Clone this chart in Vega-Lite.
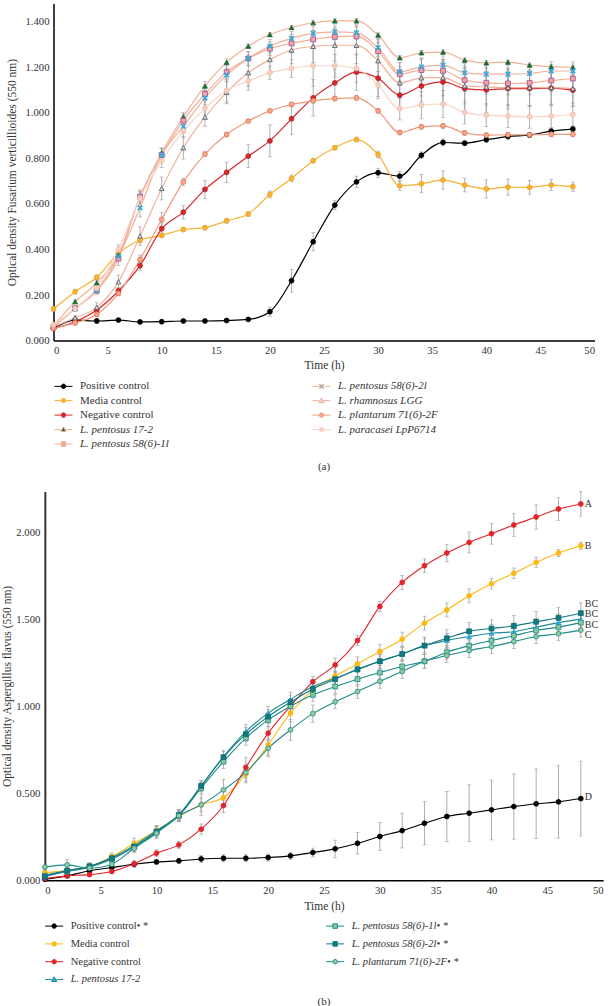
{
"$schema": "https://vega.github.io/schema/vega-lite/v6.json",
"background": "white",
"padding": {"left": 1.5, "top": 3.6, "right": 0, "bottom": 0},
"spacing": 151,
"center": true,
"bounds": "flush",
"config": {
  "view": {"stroke": null},
  "font": "Liberation Serif",
  "axis": {"grid": false, "ticks": false, "tickSize": 0, "labelFont": "Liberation Serif", "labelFontSize": 10.7, "labelColor": "#333333", "titleFont": "Liberation Serif", "titleFontSize": 11.5, "titleFontWeight": "normal", "titleColor": "#333333", "domainColor": "#111111", "domainWidth": 1.5}
},
"resolve": {"scale": {"x": "independent", "y": "independent", "fill": "independent", "stroke": "independent", "shape": "independent"}, "legend": {"fill": "independent"}},
"datasets": {
"a": [
{"s":"PC","t":0,"v":0.054,"e":0.005},{"s":"PC","t":2,"v":0.090,"e":0.01},{"s":"PC","t":4,"v":0.086,"e":0.01},{"s":"PC","t":6,"v":0.090,"e":0.005},{"s":"PC","t":8,"v":0.082,"e":0.005},{"s":"PC","t":10,"v":0.083,"e":0.005},{"s":"PC","t":12,"v":0.086,"e":0.005},{"s":"PC","t":14,"v":0.086,"e":0.005},{"s":"PC","t":16,"v":0.088,"e":0.005},{"s":"PC","t":18,"v":0.093,"e":0.005},{"s":"PC","t":20,"v":0.127,"e":0.02},{"s":"PC","t":22,"v":0.263,"e":0.05},{"s":"PC","t":24,"v":0.434,"e":0.04},{"s":"PC","t":26,"v":0.595,"e":0.02},{"s":"PC","t":28,"v":0.697,"e":0.025},{"s":"PC","t":30,"v":0.737,"e":0.02},{"s":"PC","t":32,"v":0.722,"e":0.02},{"s":"PC","t":34,"v":0.814,"e":0.015},{"s":"PC","t":36,"v":0.870,"e":0.015},{"s":"PC","t":38,"v":0.867,"e":0.01},{"s":"PC","t":40,"v":0.882,"e":0.01},{"s":"PC","t":42,"v":0.896,"e":0.01},{"s":"PC","t":44,"v":0.903,"e":0.01},{"s":"PC","t":46,"v":0.920,"e":0.01},{"s":"PC","t":48,"v":0.929,"e":0.01},
{"s":"MC","t":0,"v":0.139,"e":0.01},{"s":"MC","t":2,"v":0.215,"e":0.01},{"s":"MC","t":4,"v":0.278,"e":0.01},{"s":"MC","t":6,"v":0.383,"e":0.015},{"s":"MC","t":8,"v":0.441,"e":0.01},{"s":"MC","t":10,"v":0.462,"e":0.01},{"s":"MC","t":12,"v":0.488,"e":0.01},{"s":"MC","t":14,"v":0.496,"e":0.01},{"s":"MC","t":16,"v":0.526,"e":0.01},{"s":"MC","t":18,"v":0.556,"e":0.01},{"s":"MC","t":20,"v":0.642,"e":0.015},{"s":"MC","t":22,"v":0.712,"e":0.015},{"s":"MC","t":24,"v":0.790,"e":0.01},{"s":"MC","t":26,"v":0.847,"e":0.01},{"s":"MC","t":28,"v":0.883,"e":0.01},{"s":"MC","t":30,"v":0.817,"e":0.015},{"s":"MC","t":32,"v":0.680,"e":0.02},{"s":"MC","t":34,"v":0.689,"e":0.04},{"s":"MC","t":36,"v":0.705,"e":0.04},{"s":"MC","t":38,"v":0.683,"e":0.03},{"s":"MC","t":40,"v":0.666,"e":0.04},{"s":"MC","t":42,"v":0.674,"e":0.035},{"s":"MC","t":44,"v":0.673,"e":0.03},{"s":"MC","t":46,"v":0.683,"e":0.025},{"s":"MC","t":48,"v":0.676,"e":0.02},
{"s":"NC","t":0,"v":0.054,"e":0.005},{"s":"NC","t":2,"v":0.083,"e":0.01},{"s":"NC","t":4,"v":0.134,"e":0.015},{"s":"NC","t":6,"v":0.218,"e":0.015},{"s":"NC","t":8,"v":0.329,"e":0.02},{"s":"NC","t":10,"v":0.491,"e":0.025},{"s":"NC","t":12,"v":0.564,"e":0.03},{"s":"NC","t":14,"v":0.664,"e":0.04},{"s":"NC","t":16,"v":0.739,"e":0.045},{"s":"NC","t":18,"v":0.810,"e":0.05},{"s":"NC","t":20,"v":0.877,"e":0.07},{"s":"NC","t":22,"v":0.974,"e":0.07},{"s":"NC","t":24,"v":1.066,"e":0.08},{"s":"NC","t":26,"v":1.132,"e":0.06},{"s":"NC","t":28,"v":1.179,"e":0.08},{"s":"NC","t":30,"v":1.152,"e":0.08},{"s":"NC","t":32,"v":1.078,"e":0.06},{"s":"NC","t":34,"v":1.118,"e":0.07},{"s":"NC","t":36,"v":1.136,"e":0.09},{"s":"NC","t":38,"v":1.107,"e":0.1},{"s":"NC","t":40,"v":1.101,"e":0.1},{"s":"NC","t":42,"v":1.107,"e":0.09},{"s":"NC","t":44,"v":1.107,"e":0.08},{"s":"NC","t":46,"v":1.109,"e":0.07},{"s":"NC","t":48,"v":1.100,"e":0.07},
{"s":"P172","t":0,"v":0.065,"e":0.005},{"s":"P172","t":2,"v":0.171,"e":0.01},{"s":"P172","t":4,"v":0.254,"e":0.01},{"s":"P172","t":6,"v":0.376,"e":0.02},{"s":"P172","t":8,"v":0.632,"e":0.02},{"s":"P172","t":10,"v":0.825,"e":0.02},{"s":"P172","t":12,"v":0.983,"e":0.02},{"s":"P172","t":14,"v":1.118,"e":0.02},{"s":"P172","t":16,"v":1.222,"e":0.015},{"s":"P172","t":18,"v":1.293,"e":0.01},{"s":"P172","t":20,"v":1.344,"e":0.01},{"s":"P172","t":22,"v":1.375,"e":0.01},{"s":"P172","t":24,"v":1.396,"e":0.01},{"s":"P172","t":26,"v":1.404,"e":0.01},{"s":"P172","t":28,"v":1.404,"e":0.01},{"s":"P172","t":30,"v":1.342,"e":0.01},{"s":"P172","t":32,"v":1.242,"e":0.01},{"s":"P172","t":34,"v":1.264,"e":0.01},{"s":"P172","t":36,"v":1.267,"e":0.01},{"s":"P172","t":38,"v":1.232,"e":0.01},{"s":"P172","t":40,"v":1.220,"e":0.01},{"s":"P172","t":42,"v":1.223,"e":0.01},{"s":"P172","t":44,"v":1.210,"e":0.01},{"s":"P172","t":46,"v":1.203,"e":0.01},{"s":"P172","t":48,"v":1.200,"e":0.01},
{"s":"P1l","t":0,"v":0.060,"e":0.005},{"s":"P1l","t":2,"v":0.142,"e":0.01},{"s":"P1l","t":4,"v":0.220,"e":0.015},{"s":"P1l","t":6,"v":0.360,"e":0.03},{"s":"P1l","t":8,"v":0.632,"e":0.03},{"s":"P1l","t":10,"v":0.815,"e":0.03},{"s":"P1l","t":12,"v":0.966,"e":0.03},{"s":"P1l","t":14,"v":1.083,"e":0.03},{"s":"P1l","t":16,"v":1.179,"e":0.03},{"s":"P1l","t":18,"v":1.239,"e":0.03},{"s":"P1l","t":20,"v":1.282,"e":0.03},{"s":"P1l","t":22,"v":1.305,"e":0.04},{"s":"P1l","t":24,"v":1.323,"e":0.04},{"s":"P1l","t":26,"v":1.334,"e":0.04},{"s":"P1l","t":28,"v":1.337,"e":0.05},{"s":"P1l","t":30,"v":1.271,"e":0.05},{"s":"P1l","t":32,"v":1.170,"e":0.05},{"s":"P1l","t":34,"v":1.188,"e":0.05},{"s":"P1l","t":36,"v":1.185,"e":0.05},{"s":"P1l","t":38,"v":1.144,"e":0.05},{"s":"P1l","t":40,"v":1.132,"e":0.05},{"s":"P1l","t":42,"v":1.129,"e":0.05},{"s":"P1l","t":44,"v":1.132,"e":0.05},{"s":"P1l","t":46,"v":1.142,"e":0.05},{"s":"P1l","t":48,"v":1.151,"e":0.05},
{"s":"P2l","t":0,"v":0.060,"e":0.005},{"s":"P2l","t":2,"v":0.140,"e":0.01},{"s":"P2l","t":4,"v":0.220,"e":0.015},{"s":"P2l","t":6,"v":0.370,"e":0.02},{"s":"P2l","t":8,"v":0.583,"e":0.04},{"s":"P2l","t":10,"v":0.815,"e":0.03},{"s":"P2l","t":12,"v":0.941,"e":0.03},{"s":"P2l","t":14,"v":1.066,"e":0.03},{"s":"P2l","t":16,"v":1.166,"e":0.03},{"s":"P2l","t":18,"v":1.239,"e":0.03},{"s":"P2l","t":20,"v":1.293,"e":0.03},{"s":"P2l","t":22,"v":1.327,"e":0.03},{"s":"P2l","t":24,"v":1.349,"e":0.03},{"s":"P2l","t":26,"v":1.356,"e":0.03},{"s":"P2l","t":28,"v":1.352,"e":0.03},{"s":"P2l","t":30,"v":1.286,"e":0.04},{"s":"P2l","t":32,"v":1.181,"e":0.04},{"s":"P2l","t":34,"v":1.202,"e":0.04},{"s":"P2l","t":36,"v":1.210,"e":0.04},{"s":"P2l","t":38,"v":1.176,"e":0.04},{"s":"P2l","t":40,"v":1.170,"e":0.04},{"s":"P2l","t":42,"v":1.170,"e":0.04},{"s":"P2l","t":44,"v":1.173,"e":0.04},{"s":"P2l","t":46,"v":1.184,"e":0.04},{"s":"P2l","t":48,"v":1.184,"e":0.04},
{"s":"LGG","t":0,"v":0.060,"e":0.005},{"s":"LGG","t":2,"v":0.100,"e":0.01},{"s":"LGG","t":4,"v":0.146,"e":0.02},{"s":"LGG","t":6,"v":0.258,"e":0.03},{"s":"LGG","t":8,"v":0.459,"e":0.04},{"s":"LGG","t":10,"v":0.668,"e":0.05},{"s":"LGG","t":12,"v":0.847,"e":0.05},{"s":"LGG","t":14,"v":0.981,"e":0.04},{"s":"LGG","t":16,"v":1.090,"e":0.05},{"s":"LGG","t":18,"v":1.176,"e":0.06},{"s":"LGG","t":20,"v":1.234,"e":0.05},{"s":"LGG","t":22,"v":1.276,"e":0.06},{"s":"LGG","t":24,"v":1.292,"e":0.07},{"s":"LGG","t":26,"v":1.297,"e":0.07},{"s":"LGG","t":28,"v":1.297,"e":0.08},{"s":"LGG","t":30,"v":1.229,"e":0.08},{"s":"LGG","t":32,"v":1.132,"e":0.07},{"s":"LGG","t":34,"v":1.154,"e":0.08},{"s":"LGG","t":36,"v":1.155,"e":0.08},{"s":"LGG","t":38,"v":1.119,"e":0.08},{"s":"LGG","t":40,"v":1.114,"e":0.08},{"s":"LGG","t":42,"v":1.111,"e":0.08},{"s":"LGG","t":44,"v":1.111,"e":0.08},{"s":"LGG","t":46,"v":1.111,"e":0.08},{"s":"LGG","t":48,"v":1.107,"e":0.08},
{"s":"PL","t":0,"v":0.054,"e":0.005},{"s":"PL","t":2,"v":0.078,"e":0.01},{"s":"PL","t":4,"v":0.115,"e":0.01},{"s":"PL","t":6,"v":0.207,"e":0.01},{"s":"PL","t":8,"v":0.356,"e":0.02},{"s":"PL","t":10,"v":0.532,"e":0.03},{"s":"PL","t":12,"v":0.697,"e":0.015},{"s":"PL","t":14,"v":0.819,"e":0.01},{"s":"PL","t":16,"v":0.905,"e":0.01},{"s":"PL","t":18,"v":0.964,"e":0.005},{"s":"PL","t":20,"v":1.009,"e":0.005},{"s":"PL","t":22,"v":1.037,"e":0.01},{"s":"PL","t":24,"v":1.053,"e":0.01},{"s":"PL","t":26,"v":1.063,"e":0.01},{"s":"PL","t":28,"v":1.066,"e":0.01},{"s":"PL","t":30,"v":1.009,"e":0.01},{"s":"PL","t":32,"v":0.914,"e":0.01},{"s":"PL","t":34,"v":0.939,"e":0.01},{"s":"PL","t":36,"v":0.943,"e":0.01},{"s":"PL","t":38,"v":0.912,"e":0.01},{"s":"PL","t":40,"v":0.902,"e":0.01},{"s":"PL","t":42,"v":0.904,"e":0.01},{"s":"PL","t":44,"v":0.904,"e":0.01},{"s":"PL","t":46,"v":0.906,"e":0.01},{"s":"PL","t":48,"v":0.906,"e":0.01},
{"s":"PA","t":0,"v":0.070,"e":0.005},{"s":"PA","t":2,"v":0.140,"e":0.01},{"s":"PA","t":4,"v":0.230,"e":0.01},{"s":"PA","t":6,"v":0.400,"e":0.02},{"s":"PA","t":8,"v":0.625,"e":0.03},{"s":"PA","t":10,"v":0.790,"e":0.03},{"s":"PA","t":12,"v":0.920,"e":0.03},{"s":"PA","t":14,"v":1.020,"e":0.04},{"s":"PA","t":16,"v":1.098,"e":0.05},{"s":"PA","t":18,"v":1.140,"e":0.04},{"s":"PA","t":20,"v":1.176,"e":0.03},{"s":"PA","t":22,"v":1.195,"e":0.04},{"s":"PA","t":24,"v":1.207,"e":0.09},{"s":"PA","t":26,"v":1.207,"e":0.05},{"s":"PA","t":28,"v":1.195,"e":0.06},{"s":"PA","t":30,"v":1.122,"e":0.06},{"s":"PA","t":32,"v":1.019,"e":0.05},{"s":"PA","t":34,"v":1.034,"e":0.06},{"s":"PA","t":36,"v":1.039,"e":0.06},{"s":"PA","t":38,"v":1.002,"e":0.05},{"s":"PA","t":40,"v":0.990,"e":0.05},{"s":"PA","t":42,"v":0.986,"e":0.05},{"s":"PA","t":44,"v":0.983,"e":0.05},{"s":"PA","t":46,"v":0.986,"e":0.05},{"s":"PA","t":48,"v":0.993,"e":0.05}
],
"b": [
{"s":"PC","t":0,"v":0.005,"e":0.005},{"s":"PC","t":2,"v":0.025,"e":0.01},{"s":"PC","t":4,"v":0.054,"e":0.01},{"s":"PC","t":6,"v":0.073,"e":0.01},{"s":"PC","t":8,"v":0.092,"e":0.01},{"s":"PC","t":10,"v":0.105,"e":0.015},{"s":"PC","t":12,"v":0.111,"e":0.015},{"s":"PC","t":14,"v":0.122,"e":0.02},{"s":"PC","t":16,"v":0.126,"e":0.02},{"s":"PC","t":18,"v":0.126,"e":0.02},{"s":"PC","t":20,"v":0.130,"e":0.02},{"s":"PC","t":22,"v":0.140,"e":0.02},{"s":"PC","t":24,"v":0.159,"e":0.025},{"s":"PC","t":26,"v":0.180,"e":0.05},{"s":"PC","t":28,"v":0.212,"e":0.062},{"s":"PC","t":30,"v":0.251,"e":0.08},{"s":"PC","t":32,"v":0.285,"e":0.1},{"s":"PC","t":34,"v":0.327,"e":0.124},{"s":"PC","t":36,"v":0.366,"e":0.144},{"s":"PC","t":38,"v":0.385,"e":0.163},{"s":"PC","t":40,"v":0.404,"e":0.172},{"s":"PC","t":42,"v":0.423,"e":0.187},{"s":"PC","t":44,"v":0.439,"e":0.2},{"s":"PC","t":46,"v":0.450,"e":0.208},{"s":"PC","t":48,"v":0.469,"e":0.215},
{"s":"MC","t":0,"v":0.044,"e":0.01},{"s":"MC","t":2,"v":0.055,"e":0.01},{"s":"MC","t":4,"v":0.078,"e":0.01},{"s":"MC","t":6,"v":0.136,"e":0.02},{"s":"MC","t":8,"v":0.212,"e":0.03},{"s":"MC","t":10,"v":0.285,"e":0.03},{"s":"MC","t":12,"v":0.366,"e":0.03},{"s":"MC","t":14,"v":0.433,"e":0.04},{"s":"MC","t":16,"v":0.475,"e":0.05},{"s":"MC","t":18,"v":0.609,"e":0.05},{"s":"MC","t":20,"v":0.778,"e":0.06},{"s":"MC","t":22,"v":0.960,"e":0.05},{"s":"MC","t":24,"v":1.094,"e":0.04},{"s":"MC","t":26,"v":1.174,"e":0.06},{"s":"MC","t":28,"v":1.243,"e":0.04},{"s":"MC","t":30,"v":1.314,"e":0.04},{"s":"MC","t":32,"v":1.385,"e":0.04},{"s":"MC","t":34,"v":1.477,"e":0.04},{"s":"MC","t":36,"v":1.553,"e":0.04},{"s":"MC","t":38,"v":1.634,"e":0.04},{"s":"MC","t":40,"v":1.703,"e":0.03},{"s":"MC","t":42,"v":1.764,"e":0.03},{"s":"MC","t":44,"v":1.826,"e":0.03},{"s":"MC","t":46,"v":1.880,"e":0.02},{"s":"MC","t":48,"v":1.922,"e":0.02},
{"s":"NC","t":0,"v":0.010,"e":0.01},{"s":"NC","t":2,"v":0.025,"e":0.01},{"s":"NC","t":4,"v":0.032,"e":0.01},{"s":"NC","t":6,"v":0.050,"e":0.01},{"s":"NC","t":8,"v":0.094,"e":0.02},{"s":"NC","t":10,"v":0.155,"e":0.02},{"s":"NC","t":12,"v":0.203,"e":0.02},{"s":"NC","t":14,"v":0.293,"e":0.03},{"s":"NC","t":16,"v":0.429,"e":0.04},{"s":"NC","t":18,"v":0.647,"e":0.06},{"s":"NC","t":20,"v":0.845,"e":0.04},{"s":"NC","t":22,"v":1.000,"e":0.03},{"s":"NC","t":24,"v":1.140,"e":0.03},{"s":"NC","t":26,"v":1.237,"e":0.04},{"s":"NC","t":28,"v":1.377,"e":0.03},{"s":"NC","t":30,"v":1.573,"e":0.03},{"s":"NC","t":32,"v":1.711,"e":0.04},{"s":"NC","t":34,"v":1.807,"e":0.04},{"s":"NC","t":36,"v":1.880,"e":0.05},{"s":"NC","t":38,"v":1.941,"e":0.06},{"s":"NC","t":40,"v":1.991,"e":0.06},{"s":"NC","t":42,"v":2.041,"e":0.065},{"s":"NC","t":44,"v":2.087,"e":0.07},{"s":"NC","t":46,"v":2.133,"e":0.065},{"s":"NC","t":48,"v":2.162,"e":0.07},
{"s":"P172","t":0,"v":0.030,"e":0.01},{"s":"P172","t":2,"v":0.055,"e":0.03},{"s":"P172","t":4,"v":0.078,"e":0.02},{"s":"P172","t":6,"v":0.130,"e":0.02},{"s":"P172","t":8,"v":0.200,"e":0.02},{"s":"P172","t":10,"v":0.285,"e":0.03},{"s":"P172","t":12,"v":0.375,"e":0.03},{"s":"P172","t":14,"v":0.540,"e":0.03},{"s":"P172","t":16,"v":0.710,"e":0.03},{"s":"P172","t":18,"v":0.854,"e":0.04},{"s":"P172","t":20,"v":0.960,"e":0.04},{"s":"P172","t":22,"v":1.040,"e":0.04},{"s":"P172","t":24,"v":1.113,"e":0.04},{"s":"P172","t":26,"v":1.160,"e":0.04},{"s":"P172","t":28,"v":1.210,"e":0.04},{"s":"P172","t":30,"v":1.258,"e":0.04},{"s":"P172","t":32,"v":1.300,"e":0.04},{"s":"P172","t":34,"v":1.348,"e":0.04},{"s":"P172","t":36,"v":1.377,"e":0.04},{"s":"P172","t":38,"v":1.400,"e":0.04},{"s":"P172","t":40,"v":1.419,"e":0.05},{"s":"P172","t":42,"v":1.428,"e":0.05},{"s":"P172","t":44,"v":1.454,"e":0.05},{"s":"P172","t":46,"v":1.480,"e":0.05},{"s":"P172","t":48,"v":1.500,"e":0.05},
{"s":"P1l","t":0,"v":0.025,"e":0.01},{"s":"P1l","t":2,"v":0.050,"e":0.02},{"s":"P1l","t":4,"v":0.075,"e":0.02},{"s":"P1l","t":6,"v":0.120,"e":0.02},{"s":"P1l","t":8,"v":0.190,"e":0.03},{"s":"P1l","t":10,"v":0.275,"e":0.03},{"s":"P1l","t":12,"v":0.370,"e":0.03},{"s":"P1l","t":14,"v":0.530,"e":0.03},{"s":"P1l","t":16,"v":0.682,"e":0.04},{"s":"P1l","t":18,"v":0.816,"e":0.04},{"s":"P1l","t":20,"v":0.921,"e":0.04},{"s":"P1l","t":22,"v":1.000,"e":0.04},{"s":"P1l","t":24,"v":1.065,"e":0.04},{"s":"P1l","t":26,"v":1.113,"e":0.04},{"s":"P1l","t":28,"v":1.155,"e":0.04},{"s":"P1l","t":30,"v":1.193,"e":0.04},{"s":"P1l","t":32,"v":1.228,"e":0.04},{"s":"P1l","t":34,"v":1.258,"e":0.04},{"s":"P1l","t":36,"v":1.310,"e":0.04},{"s":"P1l","t":38,"v":1.348,"e":0.04},{"s":"P1l","t":40,"v":1.377,"e":0.04},{"s":"P1l","t":42,"v":1.405,"e":0.04},{"s":"P1l","t":44,"v":1.435,"e":0.04},{"s":"P1l","t":46,"v":1.454,"e":0.04},{"s":"P1l","t":48,"v":1.480,"e":0.04},
{"s":"P2l","t":0,"v":0.020,"e":0.01},{"s":"P2l","t":2,"v":0.055,"e":0.02},{"s":"P2l","t":4,"v":0.080,"e":0.02},{"s":"P2l","t":6,"v":0.126,"e":0.02},{"s":"P2l","t":8,"v":0.193,"e":0.03},{"s":"P2l","t":10,"v":0.279,"e":0.03},{"s":"P2l","t":12,"v":0.375,"e":0.03},{"s":"P2l","t":14,"v":0.542,"e":0.03},{"s":"P2l","t":16,"v":0.707,"e":0.04},{"s":"P2l","t":18,"v":0.839,"e":0.04},{"s":"P2l","t":20,"v":0.940,"e":0.04},{"s":"P2l","t":22,"v":1.023,"e":0.04},{"s":"P2l","t":24,"v":1.099,"e":0.04},{"s":"P2l","t":26,"v":1.155,"e":0.04},{"s":"P2l","t":28,"v":1.212,"e":0.04},{"s":"P2l","t":30,"v":1.258,"e":0.04},{"s":"P2l","t":32,"v":1.300,"e":0.04},{"s":"P2l","t":34,"v":1.348,"e":0.05},{"s":"P2l","t":36,"v":1.390,"e":0.05},{"s":"P2l","t":38,"v":1.430,"e":0.05},{"s":"P2l","t":40,"v":1.446,"e":0.05},{"s":"P2l","t":42,"v":1.461,"e":0.06},{"s":"P2l","t":44,"v":1.485,"e":0.06},{"s":"P2l","t":46,"v":1.508,"e":0.06},{"s":"P2l","t":48,"v":1.534,"e":0.06},
{"s":"PL","t":0,"v":0.075,"e":0.01},{"s":"PL","t":2,"v":0.088,"e":0.03},{"s":"PL","t":4,"v":0.069,"e":0.02},{"s":"PL","t":6,"v":0.092,"e":0.02},{"s":"PL","t":8,"v":0.184,"e":0.02},{"s":"PL","t":10,"v":0.270,"e":0.03},{"s":"PL","t":12,"v":0.370,"e":0.03},{"s":"PL","t":14,"v":0.433,"e":0.06},{"s":"PL","t":16,"v":0.519,"e":0.06},{"s":"PL","t":18,"v":0.618,"e":0.05},{"s":"PL","t":20,"v":0.758,"e":0.05},{"s":"PL","t":22,"v":0.864,"e":0.06},{"s":"PL","t":24,"v":0.957,"e":0.05},{"s":"PL","t":26,"v":1.025,"e":0.04},{"s":"PL","t":28,"v":1.084,"e":0.04},{"s":"PL","t":30,"v":1.143,"e":0.04},{"s":"PL","t":32,"v":1.199,"e":0.04},{"s":"PL","t":34,"v":1.258,"e":0.04},{"s":"PL","t":36,"v":1.291,"e":0.04},{"s":"PL","t":38,"v":1.320,"e":0.04},{"s":"PL","t":40,"v":1.343,"e":0.04},{"s":"PL","t":42,"v":1.371,"e":0.04},{"s":"PL","t":44,"v":1.400,"e":0.04},{"s":"PL","t":46,"v":1.416,"e":0.04},{"s":"PL","t":48,"v":1.437,"e":0.04}
],
"lab": [
{"t":48,"v":2.162,"l":"A"},{"t":48,"v":1.922,"l":"B"},{"t":48,"v":1.587,"l":"BC"},{"t":48,"v":1.527,"l":"BC"},{"t":48,"v":1.467,"l":"BC"},{"t":48,"v":1.407,"l":"C"},{"t":48,"v":0.477,"l":"D"}
]
},
"vconcat": [
{
  "width": 541, "height": 337,
  "title": {"text": "(a)", "orient": "bottom", "offset": 11.5, "anchor": "middle", "font": "Liberation Serif", "fontSize": 11, "fontWeight": "normal", "color": "#333333"},
  "data": {"name": "a"},
  "encoding": {
    "x": {"field": "t", "type": "quantitative", "scale": {"domain": [0, 50], "nice": false}, "axis": {"values": [0,5,10,15,20,25,30,35,40,45,50], "title": "Time (h)", "labelPadding": 5, "titlePadding": 4, "domainColor": "#000000"}},
    "y": {"field": "v", "type": "quantitative", "scale": {"domain": [0, 1.48], "nice": false}, "axis": {"values": [0,0.2,0.4,0.6,0.8,1.0,1.2,1.4], "format": ".3f", "title": "Optical density Fusarium verticillioides (550 nm)", "labelPadding": 4.5, "titlePadding": 7, "domainColor": "#000000"}}
  },
  "resolve": {"scale": {"stroke": "independent"}},
  "layer": [
    {"mark": {"type": "errorbar", "ticks": {"size": 4}, "color": "#9a9a9a", "thickness": 0.8}, "encoding": {"yError": {"field": "e"}}},
    {"mark": {"type": "line", "interpolate": "monotone", "strokeWidth": 1.2},
     "encoding": {"stroke": {"field": "s", "type": "nominal", "legend": null, "scale": {"domain": ["P1l","PA","P172","PL","NC","LGG","MC","P2l","PC"], "range": ["#F2B09A","#F7D4C6","#F2B09A","#EE9A7C","#D7262B","#F2B09A","#F8B133","#F2B09A","#000000"]}}}},
    {"mark": {"type": "point", "filled": true, "size": 24, "strokeWidth": 0.8, "opacity": 1},
     "encoding": {
       "fill": {"field": "s", "type": "nominal", "scale": {"domain": ["PC","MC","NC","P172","P1l","P2l","LGG","PL","PA"], "range": ["#000000","#F8B133","#D7262B","#1A6B34","#F2A3A0","#2BA9E1","#D5DADB","#F4A88B","#F7D0C0"]},
         "legend": {"title": null, "orient": "none", "legendX": 4.5, "legendY": 377, "columns": 2, "columnPadding": 141, "rowPadding": 2.5, "symbolSize": 100, "symbolStrokeWidth": 1, "symbolOpacity": 1,
           "symbolType": {"expr": "(datum.value==='LGG'||datum.value==='P172') ? 'M-1.8,0L-0.5,0M0.5,0L1.8,0M0,-0.55L0.55,0.4L-0.55,0.4Z' : datum.value==='P1l' ? 'M-1.8,0L-0.45,0M0.45,0L1.8,0M-0.45,-0.45L0.45,-0.45L0.45,0.45L-0.45,0.45Z' : datum.value==='P2l' ? 'M-1.8,0L-0.45,0M0.45,0L1.8,0M-0.45,-0.3L-0.3,-0.45L0,-0.15L0.3,-0.45L0.45,-0.3L0.15,0L0.45,0.3L0.3,0.45L0,0.15L-0.3,0.45L-0.45,0.3L-0.15,0Z' : 'M-1.8,0L-0.45,0M0.45,0L1.8,0M0.45,0A0.45,0.45,0,1,1,-0.45,0A0.45,0.45,0,1,1,0.45,0Z'"},
           "symbolStrokeColor": {"expr": "datum.value==='PC' ? '#000000' : datum.value==='MC' ? '#F8B133' : datum.value==='NC' ? '#D7262B' : datum.value==='PL' ? '#EE9A7C' : datum.value==='PA' ? '#F7D4C6' : '#F2B09A'"},
           "labelExpr": "datum.value==='PC' ? 'Positive control' : datum.value==='MC' ? 'Media control' : datum.value==='NC' ? 'Negative control' : datum.value==='P172' ? 'L. pentosus 17-2' : datum.value==='P1l' ? 'L. pentosus 58(6)-1l' : datum.value==='P2l' ? 'L. pentosus 58(6)-2l' : datum.value==='LGG' ? 'L. rhamnosus LGG' : datum.value==='PL' ? 'L. plantarum 71(6)-2F' : 'L. paracasei LpP6714'",
           "labelFontStyle": {"expr": "(datum.value==='PC'||datum.value==='MC'||datum.value==='NC') ? 'normal' : 'italic'"},
           "labelFont": "Liberation Serif", "labelFontSize": 11, "labelColor": "#333333", "labelOffset": 11, "labelLimit": 400}},
       "stroke": {"field": "s", "type": "nominal", "legend": null, "scale": {"domain": ["P1l","PA","P172","PL","NC","LGG","MC","P2l","PC"], "range": ["#9B4F96","#F2BCA8","#1A6B34","#E4714F","#B51F24","#44555E","#E9A21F","#2BA9E1","#000000"]}},
       "shape": {"field": "s", "type": "nominal", "legend": null, "scale": {"domain": ["P1l","PA","P172","PL","NC","LGG","MC","P2l","PC"], "range": ["square","circle","triangle-up","circle","circle","triangle-up","circle","M-1,-0.7L-0.7,-1L0,-0.3L0.7,-1L1,-0.7L0.3,0L1,0.7L0.7,1L0,0.3L-0.7,1L-1,0.7L-0.3,0Z","circle"]}}
     }}
  ]
},
{
  "width": 558.3, "height": 388.6,
  "title": {"text": "(b)", "orient": "bottom", "offset": 10.4, "anchor": "middle", "font": "Liberation Serif", "fontSize": 11, "fontWeight": "normal", "color": "#333333"},
  "data": {"name": "b"},
  "encoding": {
    "x": {"field": "t", "type": "quantitative", "scale": {"domain": [0, 50], "nice": false}, "axis": {"values": [0,5,10,15,20,25,30,35,40,45,50], "title": "Time (h)", "labelPadding": 5, "titlePadding": 6, "domainColor": "#000000"}},
    "y": {"field": "v", "type": "quantitative", "scale": {"domain": [0, 2.233], "nice": false}, "axis": {"values": [0,0.5,1.0,1.5,2.0], "format": ".3f", "title": "Optical density Aspergillus flavus (550 nm)", "labelPadding": 5, "titlePadding": 3, "domainColor": "#333333", "domainWidth": 2}}
  },
  "resolve": {"scale": {"stroke": "independent"}},
  "layer": [
    {"mark": {"type": "errorbar", "ticks": {"size": 4}, "color": "#9a9a9a", "thickness": 0.8}, "encoding": {"yError": {"field": "e"}}},
    {"mark": {"type": "line", "interpolate": "monotone", "strokeWidth": 1.1},
     "encoding": {"stroke": {"field": "s", "type": "nominal", "legend": null, "scale": {"domain": ["P172","PL","NC","P2l","MC","P1l","PC"], "range": ["#1E8A8B","#1E8A8B","#E2242B","#137A82","#FDB913","#1E8A8B","#000000"]}}}},
    {"mark": {"type": "point", "filled": true, "size": 24, "strokeWidth": 0.8, "opacity": 1},
     "encoding": {
       "fill": {"field": "s", "type": "nominal", "scale": {"domain": ["PC","MC","NC","P172","P1l","P2l","PL"], "range": ["#000000","#FDB913","#E2242B","#2DAAE1","#88C99C","#137A82","#8FCBA0"]},
         "legend": {"title": null, "orient": "none", "legendX": 3.8, "legendY": 429, "columns": 2, "columnPadding": 175, "rowPadding": 6.8, "symbolSize": 100, "symbolStrokeWidth": 1, "symbolOpacity": 1,
           "symbolType": {"expr": "datum.value==='P172' ? 'M-1.8,0L-0.5,0M0.5,0L1.8,0M0,-0.55L0.55,0.4L-0.55,0.4Z' : (datum.value==='P1l'||datum.value==='P2l') ? 'M-1.8,0L-0.45,0M0.45,0L1.8,0M-0.45,-0.45L0.45,-0.45L0.45,0.45L-0.45,0.45Z' : 'M-1.8,0L-0.45,0M0.45,0L1.8,0M0.45,0A0.45,0.45,0,1,1,-0.45,0A0.45,0.45,0,1,1,0.45,0Z'"},
           "symbolStrokeColor": {"expr": "datum.value==='PC' ? '#000000' : datum.value==='MC' ? '#FDB913' : datum.value==='NC' ? '#E2242B' : datum.value==='P2l' ? '#137A82' : '#1E8A8B'"},
           "labelExpr": "datum.value==='PC' ? 'Positive control• *' : datum.value==='MC' ? 'Media control' : datum.value==='NC' ? 'Negative control' : datum.value==='P172' ? 'L. pentosus 17-2' : datum.value==='P1l' ? 'L. pentosus 58(6)-1l• *' : datum.value==='P2l' ? 'L. pentosus 58(6)-2l• *' : 'L. plantarum 71(6)-2F• *'",
           "labelFontStyle": {"expr": "(datum.value==='PC'||datum.value==='MC'||datum.value==='NC') ? 'normal' : 'italic'"},
           "labelFont": "Liberation Serif", "labelFontSize": 10.5, "labelColor": "#333333", "labelOffset": 11, "labelLimit": 400}},
       "stroke": {"field": "s", "type": "nominal", "legend": null, "scale": {"domain": ["P172","PL","NC","P2l","MC","P1l","PC"], "range": ["#2DAAE1","#2C8A7E","#E2242B","#0C6970","#FDB913","#1E8A8B","#000000"]}},
       "shape": {"field": "s", "type": "nominal", "legend": null, "scale": {"domain": ["P172","PL","NC","P2l","MC","P1l","PC"], "range": ["triangle-up","circle","circle","square","circle","square","circle"]}}
     }},
    {"data": {"name": "lab"}, "mark": {"type": "text", "align": "left", "baseline": "middle", "dx": 4, "font": "Liberation Serif", "fontSize": 10, "color": "#333333"}, "encoding": {"text": {"field": "l"}}}
  ]
}
]
}
